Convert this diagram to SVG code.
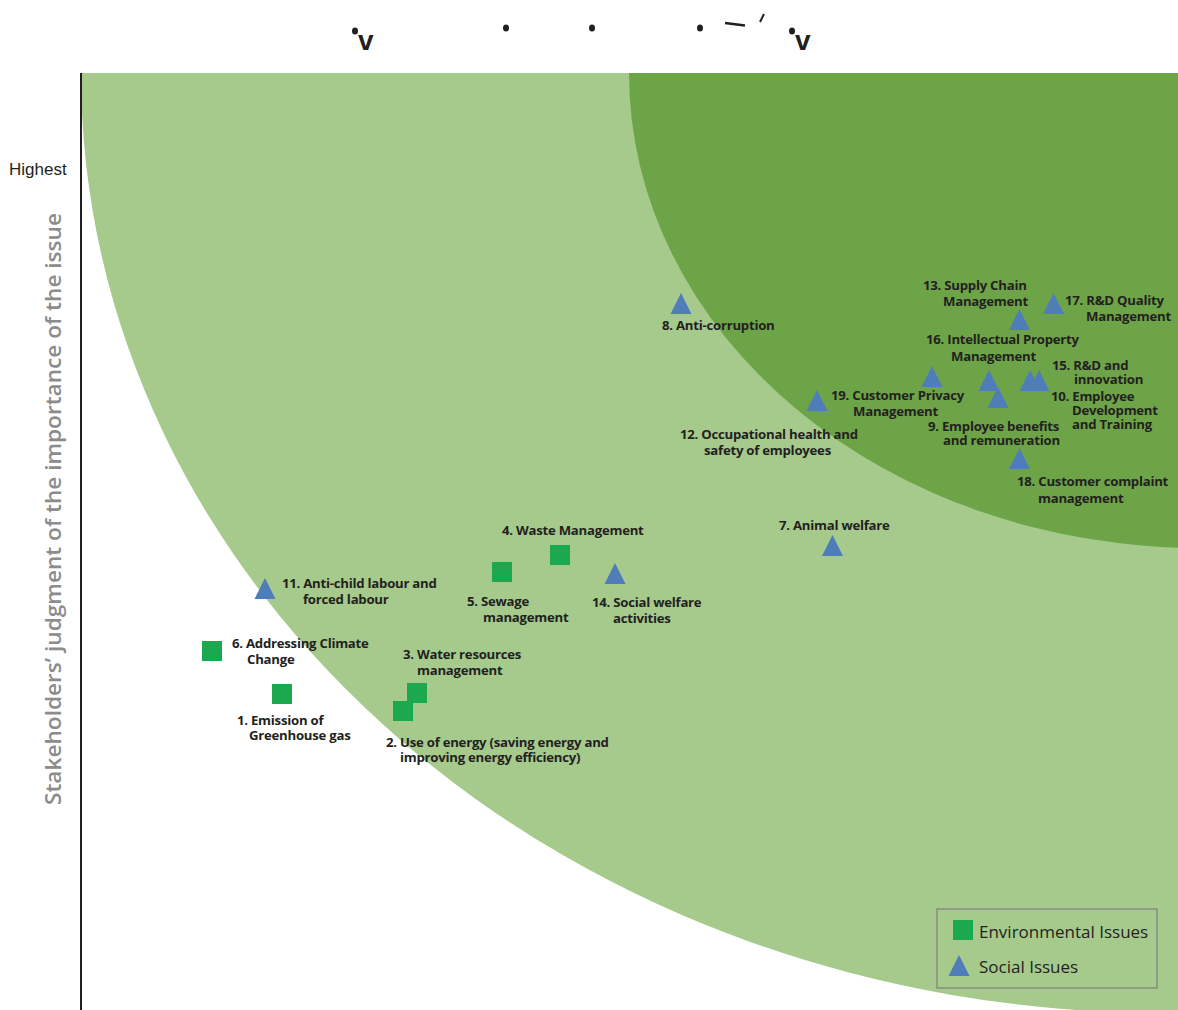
<svg xmlns="http://www.w3.org/2000/svg" xmlns:xlink="http://www.w3.org/1999/xlink" width="1178" height="1010" viewBox="0 0 1178 1010">
<style>
.lbl{font-family:"Open Sans","Liberation Sans",sans-serif;font-weight:700;font-size:13.2px;fill:#231f20;letter-spacing:-0.25px}
.sq{fill:#1ba84e}
.tri{fill:#4f7dba}
.leg{font-family:"Open Sans","Liberation Sans",sans-serif;font-size:17px;fill:#231f20}
.frag{font-family:"Liberation Sans",sans-serif;font-weight:bold;fill:#231f20}
</style>
<defs>
<clipPath id="plot"><rect x="81" y="73" width="1097" height="937"/></clipPath>
<polygon id="t" points="0,0 -10.5,21 10.5,21"/>
<rect id="s" x="0" y="0" width="20" height="20"/>
</defs>
<rect width="1178" height="1010" fill="#ffffff"/>
<g id="title-fragments">
<ellipse cx="355" cy="31" rx="3" ry="3.5" fill="#231f20"/>
<text class="frag" x="358" y="50" font-size="28">v</text>
<ellipse cx="506" cy="28" rx="3" ry="3.5" fill="#231f20"/>
<ellipse cx="592" cy="28" rx="3" ry="3.5" fill="#231f20"/>
<ellipse cx="700" cy="28" rx="3" ry="3.5" fill="#231f20"/>
<line x1="725" y1="23" x2="745" y2="25.5" stroke="#231f20" stroke-width="2.5"/>
<line x1="764" y1="14" x2="760" y2="22" stroke="#231f20" stroke-width="2"/>
<ellipse cx="792" cy="31" rx="3" ry="3.5" fill="#231f20"/>
<text class="frag" x="795" y="50" font-size="28">v</text>
</g>
<g id="zones" clip-path="url(#plot)">
<ellipse cx="1163" cy="73" rx="1082" ry="940" fill="#a5ca8c"/>
<ellipse cx="1200" cy="73" rx="571" ry="475" fill="#6da447"/>
</g>
<g id="axis">
<line x1="81" y1="73" x2="81" y2="1010" stroke="#231f20" stroke-width="2"/>
<text x="9" y="175" font-family="Liberation Sans, Arial, sans-serif" font-size="17" fill="#231f20">Highest</text>
<text transform="translate(61,509) rotate(-90)" text-anchor="middle" font-family="Open Sans, Liberation Sans, sans-serif" font-weight="600" font-size="21" fill="#8c8c8c" textLength="592" lengthAdjust="spacingAndGlyphs">Stakeholders’ judgment of the importance of the issue</text>
</g>
<g id="connectors"/>
<g id="n1"><use href="#s" class="sq" x="272" y="684"/><text class="lbl"><tspan x="237" y="725">1. Emission of</tspan><tspan x="249" y="740">Greenhouse gas</tspan></text></g>
<g id="n2"><use href="#s" class="sq" x="393" y="701"/><text class="lbl"><tspan x="386" y="747">2. Use of energy (saving energy and</tspan><tspan x="400" y="762">improving energy efficiency)</tspan></text></g>
<g id="n3"><use href="#s" class="sq" x="407" y="683"/><text class="lbl"><tspan x="403" y="659">3. Water resources</tspan><tspan x="417" y="675">management</tspan></text></g>
<g id="n4"><use href="#s" class="sq" x="550" y="545"/><text class="lbl"><tspan x="502" y="535">4. Waste Management</tspan></text></g>
<g id="n5"><use href="#s" class="sq" x="492" y="562"/><text class="lbl"><tspan x="467" y="606">5. Sewage</tspan><tspan x="483" y="622">management</tspan></text></g>
<g id="n6"><use href="#s" class="sq" x="202" y="641"/><text class="lbl"><tspan x="232" y="648">6. Addressing Climate</tspan><tspan x="247" y="664">Change</tspan></text></g>
<g id="n7"><use href="#t" class="tri" x="832.5" y="535"/><text class="lbl"><tspan x="779" y="530">7. Animal welfare</tspan></text></g>
<g id="n8"><use href="#t" class="tri" x="681" y="293"/><text class="lbl"><tspan x="662" y="330">8. Anti-corruption</tspan></text></g>
<g id="n9"><use href="#t" class="tri" x="998" y="387"/><text class="lbl"><tspan x="928" y="431">9. Employee benefits</tspan><tspan x="943" y="445">and remuneration</tspan></text></g>
<g id="n10"><use href="#t" class="tri" x="1039" y="370"/><text class="lbl"><tspan x="1051" y="401">10. Employee</tspan><tspan x="1072" y="415">Development</tspan><tspan x="1072" y="429">and Training</tspan></text></g>
<g id="n11"><use href="#t" class="tri" x="265" y="578"/><text class="lbl"><tspan x="282" y="588">11. Anti-child labour and</tspan><tspan x="303" y="604">forced labour</tspan></text></g>
<g id="n12"><use href="#t" class="tri" x="817" y="390"/><text class="lbl"><tspan x="680" y="439">12. Occupational health and</tspan><tspan x="704" y="455">safety of employees</tspan></text></g>
<g id="n13"><use href="#t" class="tri" x="1019.5" y="309"/><text class="lbl"><tspan x="923" y="290">13. Supply Chain</tspan><tspan x="943" y="306">Management</tspan></text></g>
<g id="n14"><use href="#t" class="tri" x="615" y="563"/><text class="lbl"><tspan x="592" y="607">14. Social welfare</tspan><tspan x="613" y="623">activities</tspan></text></g>
<g id="n15"><use href="#t" class="tri" x="1030" y="370"/><text class="lbl"><tspan x="1052" y="370">15. R&amp;D and</tspan><tspan x="1074" y="384">innovation</tspan></text></g>
<g id="n16"><use href="#t" class="tri" x="989" y="370"/><text class="lbl"><tspan x="926" y="344">16. Intellectual Property</tspan><tspan x="951" y="361">Management</tspan></text></g>
<g id="n17"><use href="#t" class="tri" x="1053.5" y="293"/><text class="lbl"><tspan x="1065" y="305">17. R&amp;D Quality</tspan><tspan x="1086" y="321">Management</tspan></text></g>
<g id="n18"><use href="#t" class="tri" x="1019.5" y="448"/><text class="lbl"><tspan x="1017" y="486">18. Customer complaint</tspan><tspan x="1038" y="503">management</tspan></text></g>
<g id="n19"><use href="#t" class="tri" x="932" y="366"/><text class="lbl"><tspan x="831" y="400">19. Customer Privacy</tspan><tspan x="853" y="416">Management</tspan></text></g>
<g id="legend">
<rect x="937" y="909" width="220" height="79" fill="none" stroke="#7f7f7f" stroke-width="1.2"/>
<use href="#s" class="sq" x="953" y="920"/>
<text class="leg" x="979" y="938">Environmental Issues</text>
<use href="#t" class="tri" x="959" y="955"/>
<text class="leg" x="979" y="973">Social Issues</text>
</g>
</svg>
